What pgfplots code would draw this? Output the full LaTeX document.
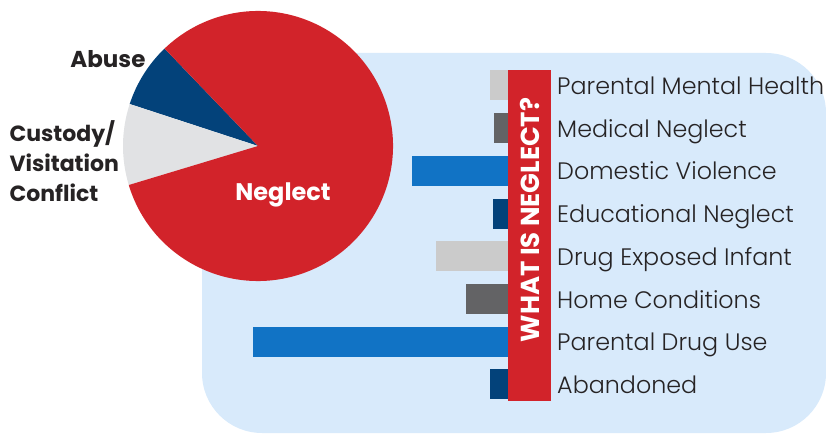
\documentclass[border=0pt]{standalone}
\usepackage{pgfplots}
\pgfplotsset{compat=1.18}
\usepackage{fontspec}
\setmainfont{Poppins}
\newfontfamily\lightfont{Poppins}[UprightFont=* Light]
\definecolor{nred}{HTML}{D2232A}
\definecolor{nnavy}{HTML}{03427A}
\definecolor{nlgray}{HTML}{E1E2E4}
\definecolor{bgblue}{HTML}{D8EAFB}
\definecolor{blgray}{HTML}{CBCBCB}
\definecolor{bdgray}{HTML}{636365}
\definecolor{bblue}{HTML}{1173C5}
\definecolor{txt}{HTML}{262324}
% pie shares (percent)
\def\vNeglect{82.5}
\def\vAbuse{7.8}
\def\vCustody{9.7}
\begin{document}
\begin{tikzpicture}
\useasboundingbox (0,0) rectangle (826pt,434pt);
\begin{axis}[at={(0pt,0pt)}, anchor=origin, scale only axis,
  width=826pt, height=434pt, xmin=0, xmax=826, ymin=0, ymax=434,
  hide axis, clip=false]
  \fill[bgblue, rounded corners=60pt] (axis cs:202,1) rectangle (axis cs:826,381);
  \pgfmathsetmacro{\aA}{133.8}
  \pgfmathsetmacro{\aB}{\aA+3.6*\vAbuse}
  \pgfmathsetmacro{\aC}{\aB+3.6*\vCustody}
  \pgfmathsetmacro{\aD}{\aC+3.6*\vNeglect}
  \fill[nnavy] (axis cs:258,288) -- ++(\aA:135pt) arc[start angle=\aA, end angle=\aB, radius=135pt] -- cycle;
  \fill[nlgray] (axis cs:258,288) -- ++(\aB:135pt) arc[start angle=\aB, end angle=\aC, radius=135pt] -- cycle;
  \fill[nred] (axis cs:258,288) -- ++(\aC:135pt) arc[start angle=\aC, end angle=\aD, radius=135pt] -- cycle;
  \node[anchor=east, text=txt, font=\bfseries\fontsize{23}{23}\selectfont] at (axis cs:149,375) {Abuse};
  \node[anchor=west, align=left, text=txt, font=\bfseries\fontsize{22}{30}\selectfont] at (axis cs:6,273) {Custody/\\Visitation\\Conflict};
  \node[text=white, font=\bfseries\fontsize{24}{24}\selectfont] at (axis cs:283,239) {Neglect};
\end{axis}
\begin{axis}[at={(508pt,0pt)}, anchor=origin, scale only axis,
  width=306pt, height=434pt, xmin=0, xmax=306, ymin=0, ymax=434,
  x dir=reverse, hide axis, clip=false,
  xbar, bar width=30pt, bar shift=0pt]
  \addplot[draw=none, fill=blgray] coordinates {(18,348.5)};
  \addplot[draw=none, fill=bdgray] coordinates {(14,305.8)};
  \addplot[draw=none, fill=bblue]  coordinates {(96,263.1)};
  \addplot[draw=none, fill=nnavy]  coordinates {(15,220.4)};
  \addplot[draw=none, fill=blgray] coordinates {(72,177.7)};
  \addplot[draw=none, fill=bdgray] coordinates {(42,135.0)};
  \addplot[draw=none, fill=bblue]  coordinates {(255,92.3)};
  \addplot[draw=none, fill=nnavy]  coordinates {(18,49.6)};
  \fill[nred] (axis cs:0,33.3) rectangle (axis cs:-43,364);
  \node[rotate=90, text=white, font=\bfseries\fontsize{26}{26}\selectfont] at (axis cs:-21.5,214) {WHAT IS NEGLECT?};
  \begin{scope}[every node/.style={anchor=base west, text=txt, font=\lightfont\fontsize{23.8}{23.8}\selectfont}]
  \node at (axis cs:-45.7,339.5) {Parental Mental Health};
  \node at (axis cs:-45.7,296.8) {Medical Neglect};
  \node at (axis cs:-45.7,254.1) {Domestic Violence};
  \node at (axis cs:-45.7,211.4) {Educational Neglect};
  \node at (axis cs:-45.7,168.7) {Drug Exposed Infant};
  \node at (axis cs:-45.7,126.0) {Home Conditions};
  \node at (axis cs:-45.7,83.3) {Parental Drug Use};
  \node at (axis cs:-45.7,40.6) {Abandoned};
  \end{scope}
\end{axis}
\end{tikzpicture}
\end{document}
